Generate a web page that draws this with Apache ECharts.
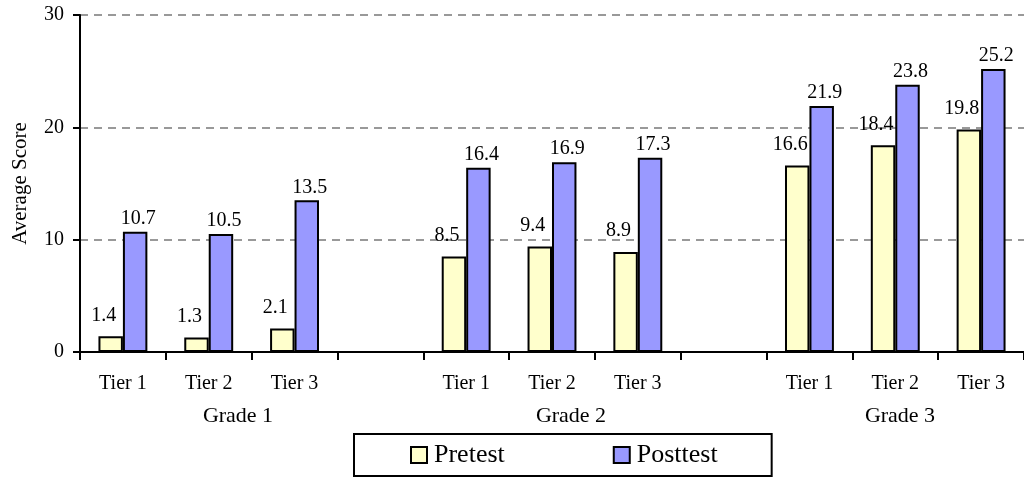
<!DOCTYPE html>
<html>
<head>
<meta charset="utf-8">
<script src="https://cdn.jsdelivr.net/npm/echarts@6/dist/echarts.min.js"></script>
<style>html,body{margin:0;padding:0;background:#fff;}#c{width:1024px;height:478px;}</style>
</head>
<body>
<div id="c"></div>
<script>
var categories = ['Tier 1', 'Tier 2', 'Tier 3', '', 'Tier 1', 'Tier 2', 'Tier 3', '', 'Tier 1', 'Tier 2', 'Tier 3'];
var pretest = [1.4, 1.3, 2.1, null, 8.5, 9.4, 8.9, null, 16.6, 18.4, 19.8];
var posttest = [10.7, 10.5, 13.5, null, 16.4, 16.9, 17.3, null, 21.9, 23.8, 25.2];
var groupLabels = ['Grade 1', 'Grade 2', 'Grade 3'];
var yTicks = [0, 10, 20, 30];

var FONT = '"Liberation Serif", "Times New Roman", serif';
var chart = echarts.init(document.getElementById('c'));
chart.setOption({
  animation: false,
  backgroundColor: '#fff',
  textStyle: { fontFamily: FONT, color: '#000' },
  grid: { left: 80, top: 15, bottom: 126, right: -7, containLabel: false },
  legend: {
    left: 354, top: 434,
    padding: [8, 54, 8, 56],
    itemGap: 108,
    itemWidth: 16, itemHeight: 16,
    icon: 'rect',
    borderColor: '#000', borderWidth: 2,
    textStyle: { fontFamily: FONT, fontSize: 26, color: '#000', padding: [0, 0, 0, 2] },
    data: ['Pretest', 'Posttest']
  },
  xAxis: {
    type: 'category',
    data: categories,
    axisLine: { lineStyle: { color: '#000', width: 2 } },
    axisTick: { show: true, length: 8, lineStyle: { color: '#000', width: 2 } },
    axisLabel: { fontFamily: FONT, fontSize: 20, color: '#000', margin: 22, interval: 0 }
  },
  yAxis: {
    type: 'value',
    min: yTicks[0], max: yTicks[yTicks.length - 1], interval: 10,
    name: 'Average Score',
    nameLocation: 'middle',
    nameGap: 49,
    nameTextStyle: { fontFamily: FONT, fontSize: 21, color: '#000' },
    axisLine: { show: true, lineStyle: { color: '#000', width: 2 } },
    axisTick: { show: true, length: 7, lineStyle: { color: '#000', width: 2 } },
    axisLabel: { fontFamily: FONT, fontSize: 20, color: '#000', margin: 16 },
    splitLine: { show: true, lineStyle: { color: '#999', type: [8, 6], width: 2 } }
  },
  series: [
    {
      name: 'Pretest', type: 'bar', data: pretest,
      barGap: '0%', barCategoryGap: '43%',
      itemStyle: { color: '#FFFFCC', borderColor: '#000', borderWidth: 2 },
      label: { show: true, position: 'top', distance: 11, offset: [-7, 0], fontFamily: FONT, fontSize: 20, color: '#000' }
    },
    {
      name: 'Posttest', type: 'bar', data: posttest,
      itemStyle: { color: '#9999FF', borderColor: '#000', borderWidth: 2 },
      label: { show: true, position: 'top', distance: 3, offset: [3, 0], fontFamily: FONT, fontSize: 20, color: '#000' }
    }
  ]
});

var groupCenters = [238, 571, 900];
chart.setOption({
  graphic: groupLabels.map(function (t, i) {
    return {
      type: 'text', x: groupCenters[i], y: 416,
      style: { text: t, fontFamily: FONT, fontSize: 22, fill: '#000', align: 'center', verticalAlign: 'middle' }
    };
  })
});
</script>
</body>
</html>
